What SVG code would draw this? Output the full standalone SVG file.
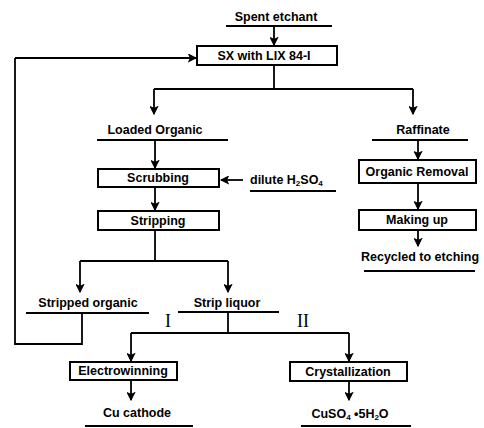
<svg xmlns="http://www.w3.org/2000/svg" width="484" height="428" viewBox="0 0 484 428">
<defs>
<marker id="ah" viewBox="0 0 10 10" refX="9" refY="5" markerWidth="9" markerHeight="9" markerUnits="userSpaceOnUse" orient="auto">
<path d="M1,1 L9,5 L1,9 L3,5 Z" fill="#000" stroke="#000" stroke-width="1.2" stroke-linejoin="miter"/>
</marker>
<style>
.t{font-family:"Liberation Sans",Arial,sans-serif;font-size:12.5px;font-weight:bold;text-anchor:middle;fill:#000}
.r{font-family:"Liberation Serif","Times New Roman",serif;font-size:18px;text-anchor:middle;fill:#000}
.b{fill:#fff;stroke:#000;stroke-width:2}
.l{fill:none;stroke:#000;stroke-width:1.8}
.a{fill:none;stroke:#000;stroke-width:1.8;marker-end:url(#ah)}
.u{stroke:#000;stroke-width:2}
</style>
</defs>
<rect width="484" height="428" fill="#fff"/>
<g id="connectors">
<line class="a" x1="274" y1="26" x2="274" y2="45"/>
<polyline class="l" points="274,65 274,89"/>
<polyline class="l" points="154,89 413,89"/>
<line class="a" x1="154" y1="89" x2="154" y2="114"/>
<line class="a" x1="413" y1="89" x2="413" y2="114"/>
<line class="a" x1="155" y1="140" x2="155" y2="168"/>
<line class="a" x1="155" y1="187" x2="155" y2="210"/>
<line class="a" x1="243" y1="180" x2="221" y2="180"/>
<polyline class="l" points="155,229 155,261"/>
<polyline class="l" points="80,261 228,261"/>
<line class="a" x1="80" y1="261" x2="80" y2="292"/>
<line class="a" x1="228" y1="261" x2="228" y2="292"/>
<polyline class="l" points="82,313 82,344 15,344 15,58"/>
<line class="a" x1="15" y1="58" x2="196" y2="58"/>
<polyline class="l" points="228,312 228,333"/>
<polyline class="l" points="131,333 349,333"/>
<line class="a" x1="131" y1="333" x2="131" y2="361"/>
<line class="a" x1="349" y1="333" x2="349" y2="361"/>
<line class="a" x1="131" y1="380" x2="131" y2="400"/>
<line class="a" x1="349" y1="381" x2="349" y2="400"/>
<line class="a" x1="418" y1="140" x2="418" y2="159"/>
<line class="a" x1="418" y1="183" x2="418" y2="209"/>
<line class="a" x1="418" y1="230" x2="418" y2="246"/>
</g>
<g id="spent-etchant">
<text class="t" x="276" y="21">Spent etchant</text>
<line class="u" x1="226" y1="26" x2="332" y2="26"/>
</g>
<g id="sx">
<rect class="b" x="197" y="46" width="140" height="19"/>
<text class="t" x="264" y="60">SX with LIX 84-I</text>
</g>
<g id="loaded-organic">
<text class="t" x="155" y="134">Loaded Organic</text>
<line class="u" x1="97" y1="140" x2="228" y2="140"/>
</g>
<g id="raffinate">
<text class="t" x="423" y="134">Raffinate</text>
<line class="u" x1="372" y1="140" x2="468" y2="140"/>
</g>
<g id="scrubbing">
<rect class="b" x="98" y="169" width="121" height="18"/>
<text class="t" x="158" y="182">Scrubbing</text>
</g>
<g id="dilute">
<text class="t" x="250" y="184" style="text-anchor:start">dilute H<tspan font-size="8" dy="2">2</tspan><tspan dy="-2">SO</tspan><tspan font-size="8" dy="2">4</tspan></text>
<line class="u" x1="250" y1="191" x2="336" y2="191"/>
</g>
<g id="stripping">
<rect class="b" x="98" y="211" width="121" height="19"/>
<text class="t" x="158" y="225">Stripping</text>
</g>
<g id="organic-removal">
<rect class="b" x="359" y="160" width="117" height="23"/>
<text class="t" x="417" y="176">Organic Removal</text>
</g>
<g id="making-up">
<rect class="b" x="359" y="210" width="117" height="20"/>
<text class="t" x="417" y="224">Making up</text>
</g>
<g id="recycled">
<text class="t" x="420" y="261">Recycled to etching</text>
<line class="u" x1="364" y1="271" x2="475" y2="271"/>
</g>
<g id="stripped-organic">
<text class="t" x="88" y="307">Stripped organic</text>
<line class="u" x1="26" y1="313" x2="149" y2="313"/>
</g>
<g id="strip-liquor">
<text class="t" x="227" y="307">Strip liquor</text>
<line class="u" x1="178" y1="312" x2="279" y2="312"/>
</g>
<g id="roman">
<text class="r" x="168" y="327">I</text>
<text class="r" x="303" y="327">II</text>
</g>
<g id="electrowinning">
<rect class="b" x="70" y="362" width="107" height="18"/>
<text class="t" x="123" y="375">Electrowinning</text>
</g>
<g id="crystallization">
<rect class="b" x="290" y="362" width="117" height="19"/>
<text class="t" x="348" y="376">Crystallization</text>
</g>
<g id="cu-cathode">
<text class="t" x="137" y="417">Cu cathode</text>
<line class="u" x1="85" y1="426" x2="193" y2="426"/>
</g>
<g id="cuso4">
<text class="t" x="350" y="418">CuSO<tspan font-size="8" dy="2">4</tspan><tspan dy="-2"> •5H</tspan><tspan font-size="8" dy="2">2</tspan><tspan dy="-2">O</tspan></text>
<line class="u" x1="301" y1="426" x2="411" y2="426"/>
</g>
</svg>
